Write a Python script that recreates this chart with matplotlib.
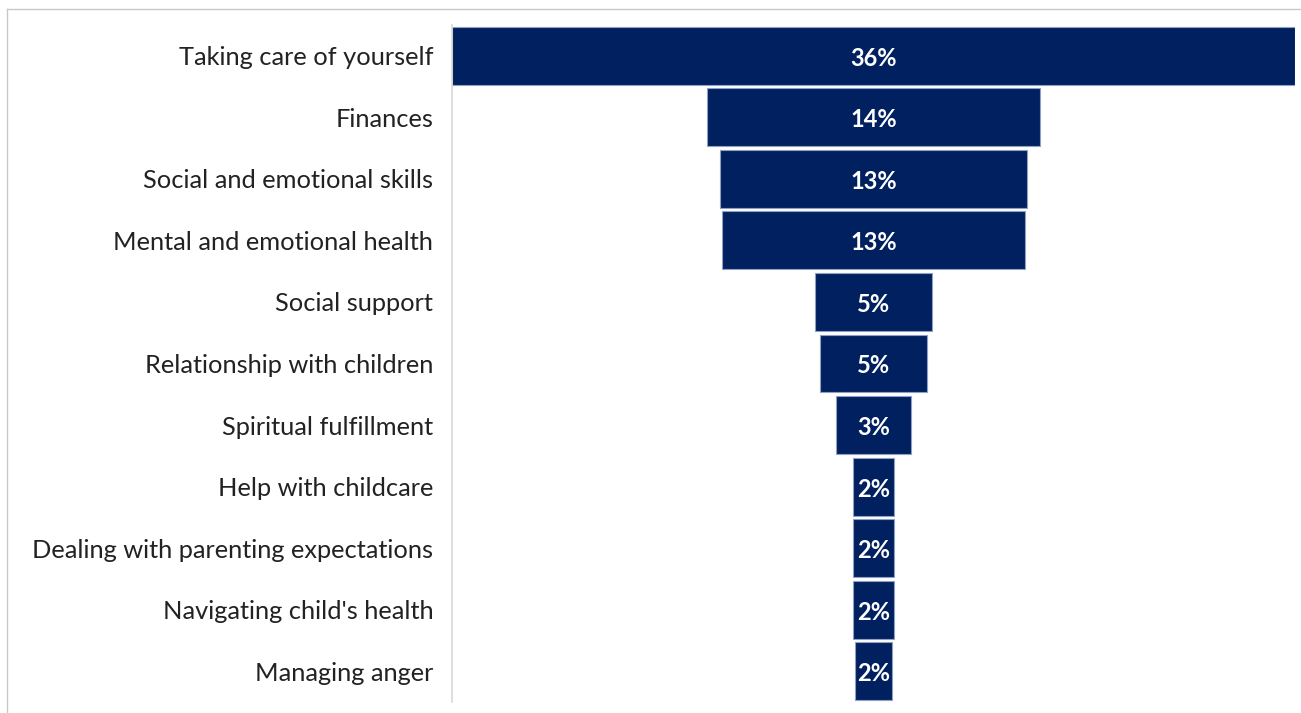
import matplotlib.pyplot as plt
from matplotlib.lines import Line2D

# categories, top to bottom
categories = [
    "Taking care of yourself",
    "Finances",
    "Social and emotional skills",
    "Mental and emotional health",
    "Social support",
    "Relationship with children",
    "Spiritual fulfillment",
    "Help with childcare",
    "Dealing with parenting expectations",
    "Navigating child's health",
    "Managing anger",
]
# share of respondents, %
values = [36.0, 14.24, 13.14, 12.94, 5.0, 4.57, 3.2, 1.71, 1.71, 1.71, 1.55]

navy = "#002060"
plt.rcParams["font.family"] = ["Lato", "DejaVu Sans"]

fig = plt.figure(figsize=(13.01, 7.13), dpi=100)
ax = fig.add_axes([452 / 1301, 11 / 713, (1295 - 452) / 1301, (702 - 25) / 713])

# funnel: each bar centred on zero
pos = list(range(len(categories)))
lefts = [-v / 2 for v in values]
ax.barh(pos, values, left=lefts, height=0.94, color=navy,
        edgecolor="#8fa0c4", linewidth=0.8)

for y, v in zip(pos, values):
    ax.text(0, y + 0.04, f"{v:.0f}%", ha="center", va="center", color="white",
            fontsize=17, fontweight="bold")

ax.set_xlim(-18, 18)
ax.set_ylim(len(categories) - 0.5, -0.5)
ax.set_yticks(pos)
ax.set_yticklabels(categories, fontsize=18.3, color="#222222")
ax.tick_params(axis="y", length=0, pad=13.5)
ax.set_xticks([])
for s in ["top", "right", "bottom"]:
    ax.spines[s].set_visible(False)
ax.spines["left"].set_color("#d9d9d9")
ax.spines["left"].set_linewidth(1.2)

# outer frame, only top and left edges are visible
fig.add_artist(Line2D([7 / 1301, 1], [1 - 9 / 713, 1 - 9 / 713],
                      transform=fig.transFigure, color="#c8c8c8", linewidth=1))
fig.add_artist(Line2D([7 / 1301, 7 / 1301], [0, 1 - 9 / 713],
                      transform=fig.transFigure, color="#c8c8c8", linewidth=1))

fig.savefig("out.png", dpi=100)
